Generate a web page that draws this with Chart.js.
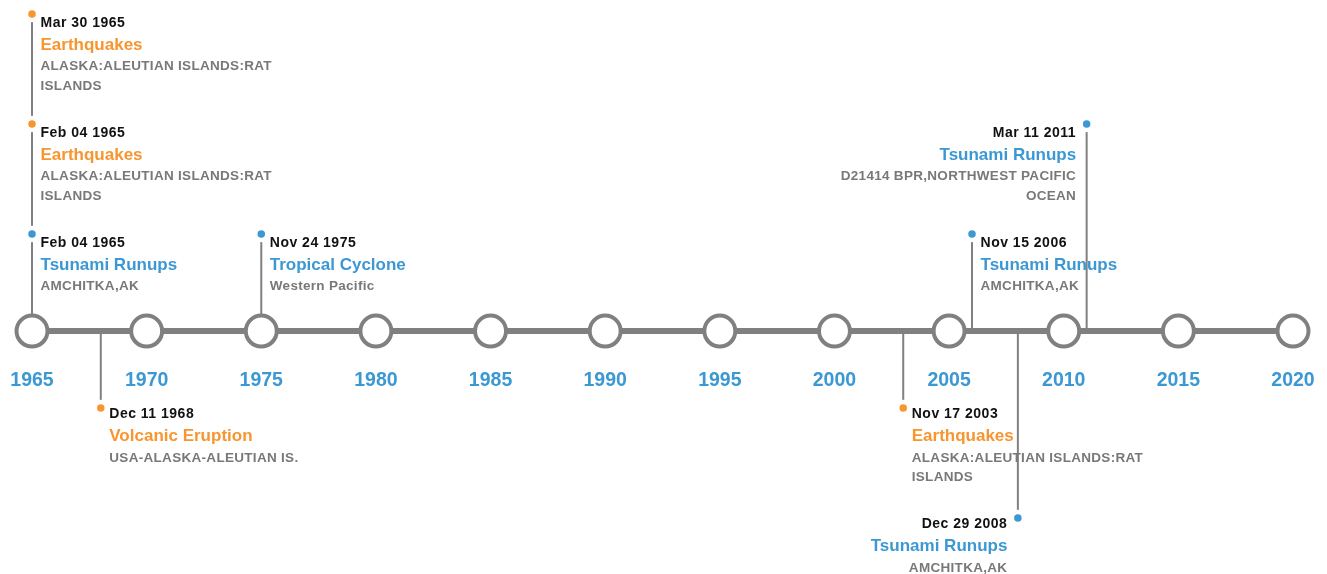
<!DOCTYPE html>
<html>
<head>
<meta charset="utf-8">
<title>Hazard timeline</title>
<script src="https://cdn.jsdelivr.net/npm/chart.js@4/dist/chart.umd.min.js"></script>
<style>
  html, body { margin: 0; padding: 0; background: #fff; }
  #wrap { position: relative; width: 1327px; height: 574px; }
</style>
</head>
<body>
<div id="wrap"><canvas id="timeline"></canvas></div>
<script>
  // ---- data ----
  const TICK_YEARS = [1965, 1970, 1975, 1980, 1985, 1990, 1995, 2000, 2005, 2010, 2015, 2020];

  const EVENT_YEARS = [1965, 1965, 1965, 1968, 1975, 2003, 2006, 2008, 2011];
  const EVENT_DATES = ["Mar 30 1965", "Feb 04 1965", "Feb 04 1965", "Dec 11 1968", "Nov 24 1975",
                       "Nov 17 2003", "Nov 15 2006", "Dec 29 2008", "Mar 11 2011"];
  const EVENT_TYPES = ["Earthquakes", "Earthquakes", "Tsunami Runups", "Volcanic Eruption", "Tropical Cyclone",
                       "Earthquakes", "Tsunami Runups", "Tsunami Runups", "Tsunami Runups"];
  const EVENT_PLACES = ["ALASKA:ALEUTIAN ISLANDS:RAT ISLANDS", "ALASKA:ALEUTIAN ISLANDS:RAT ISLANDS",
                        "AMCHITKA,AK", "USA-ALASKA-ALEUTIAN IS.", "Western Pacific",
                        "ALASKA:ALEUTIAN ISLANDS:RAT ISLANDS", "AMCHITKA,AK", "AMCHITKA,AK",
                        "D21414 BPR,NORTHWEST PACIFIC OCEAN"];
  // stacking row: positive above the line, negative below
  const EVENT_LANES = [3, 2, 1, -1, 1, -1, 1, -2, 2];

  const BLUE = "#3b98d3";
  const ORANGE = "#f7952f";
  const GRAY = "#808080";
  const TYPE_COLORS = {
    "Earthquakes": ORANGE,
    "Volcanic Eruption": ORANGE,
    "Tsunami Runups": BLUE,
    "Tropical Cyclone": BLUE,
  };
  const FONT = '"Liberation Sans", Arial, Helvetica, sans-serif';

  // 1 y-unit = 110px; above rows sit a bit higher than below rows
  function laneY(lane) {
    return lane > 0 ? lane - 0.118 : lane + 0.3;
  }

  const events = EVENT_YEARS.map((yr, i) => ({
    x: yr, y: laneY(EVENT_LANES[i]), i: i,
  }));

  const stemSets = events.map((e) => ({
    data: [{ x: e.x, y: 0 }, { x: e.x, y: e.y }],
    showLine: true,
    borderColor: GRAY,
    borderWidth: 2,
    pointRadius: 0,
    order: 3,
  }));

  function wrapText(ctx, text, maxW) {
    const words = text.split(" ");
    const lines = [];
    let cur = "";
    words.forEach((w) => {
      const t = cur ? cur + " " + w : w;
      if (cur && ctx.measureText(t).width > maxW) {
        lines.push(cur);
        cur = w;
      } else {
        cur = t;
      }
    });
    if (cur) lines.push(cur);
    return lines;
  }

  const labelsPlugin = {
    id: "timelineLabels",
    afterDatasetsDraw(chart) {
      const ctx = chart.ctx;
      const xs = chart.scales.x;
      const ys = chart.scales.y;
      const axisY = ys.getPixelForValue(0);
      ctx.save();

      // year labels under the circles
      ctx.font = "bold 19.5px " + FONT;
      ctx.fillStyle = BLUE;
      ctx.textAlign = "center";
      ctx.textBaseline = "alphabetic";
      ctx.letterSpacing = "0px";
      TICK_YEARS.forEach((yr) => {
        ctx.fillText(String(yr), xs.getPixelForValue(yr), axisY + 55);
      });

      // event text blocks
      events.forEach((e) => {
        const i = e.i;
        const px = xs.getPixelForValue(e.x);
        const py = ys.getPixelForValue(e.y);
        const above = EVENT_LANES[i] > 0;
        const right = e.x >= 2008;
        const tx = right ? px - 10.5 : px + 8.5;
        const off = above ? [13.5, 36, 56.5, 20] : [9.5, 32.5, 53.5, 19.5];
        ctx.textAlign = right ? "right" : "left";

        ctx.font = "bold 14px " + FONT;
        ctx.letterSpacing = "0.5px";
        ctx.fillStyle = "#111111";
        ctx.fillText(EVENT_DATES[i], tx, py + off[0]);

        ctx.font = "bold 17px " + FONT;
        ctx.letterSpacing = "0px";
        ctx.fillStyle = TYPE_COLORS[EVENT_TYPES[i]];
        ctx.fillText(EVENT_TYPES[i], tx, py + off[1]);

        ctx.font = "bold 13.5px " + FONT;
        ctx.letterSpacing = "0.3px";
        ctx.fillStyle = "#787878";
        wrapText(ctx, EVENT_PLACES[i], 252).forEach((line, k) => {
          ctx.fillText(line, tx, py + off[2] + k * off[3]);
        });
      });
      ctx.restore();
    },
  };

  new Chart(document.getElementById("timeline"), {
    type: "scatter",
    data: {
      datasets: [
        {
          // event dots
          data: events.map((e) => ({ x: e.x, y: e.y })),
          pointRadius: 6,
          pointBorderWidth: 4.5,
          pointBackgroundColor: events.map((e) => TYPE_COLORS[EVENT_TYPES[e.i]]),
          pointBorderColor: "#ffffff",
          order: 0,
        },
        {
          // year circles
          data: TICK_YEARS.map((yr) => ({ x: yr, y: 0 })),
          pointRadius: 15.5,
          pointBorderWidth: 4,
          pointBackgroundColor: "#ffffff",
          pointBorderColor: GRAY,
          order: 1,
        },
        {
          // main line
          data: [{ x: TICK_YEARS[0], y: 0 }, { x: TICK_YEARS[TICK_YEARS.length - 1], y: 0 }],
          showLine: true,
          borderColor: GRAY,
          borderWidth: 6,
          pointRadius: 0,
          order: 2,
        },
        ...stemSets,
      ],
    },
    options: {
      responsive: true,
      maintainAspectRatio: false,
      animation: false,
      layout: { padding: 0, autoPadding: false },
      plugins: { legend: { display: false }, tooltip: { enabled: false } },
      scales: {
        x: { type: "linear", display: false, min: 1963.604, max: 2021.483 },
        y: { type: "linear", display: false, min: -2.209, max: 3.009 },
      },
    },
    plugins: [labelsPlugin],
  });
</script>
</body>
</html>
